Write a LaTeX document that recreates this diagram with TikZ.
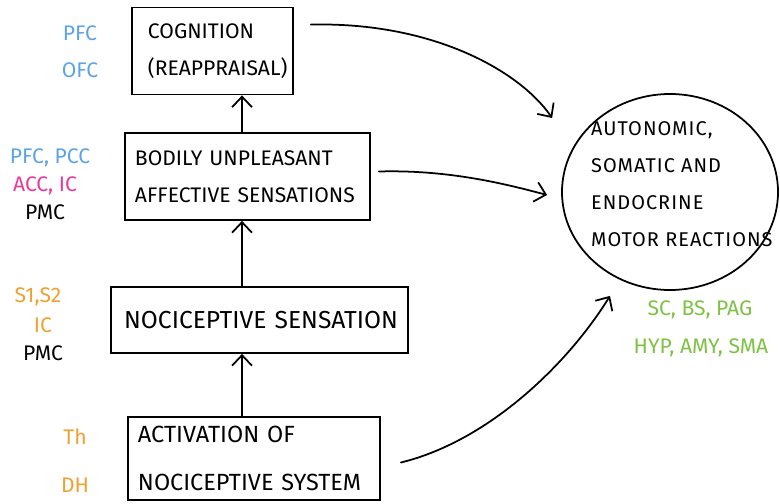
\documentclass[tikz,border=0pt]{standalone}
\usepackage{fontspec}
\setmainfont{Fira Sans}
\newfontfamily\widefont{Fira Sans}[LetterSpace=5]
\usetikzlibrary{arrows.meta,shapes.geometric,calc}
\definecolor{lblue}{HTML}{5BA3E8}
\definecolor{lmagenta}{HTML}{E8399A}
\definecolor{lorange}{HTML}{F0A030}
\definecolor{lgreen}{HTML}{7DC242}
\begin{document}
\begin{tikzpicture}[x=0.03cm,y=-0.03cm,
  stagebox/.style={draw, line width=1.5pt, rectangle, inner ysep=0pt,
    align=left, font=\fontsize{18}{32}\selectfont},
  region/.style={font=\fontsize{18}{20}\selectfont, inner sep=0pt},
  arr/.style={line width=1.5pt, line cap=round,
    -{Straight Barb[length=9pt,width=17pt,line width=1.5pt]}}]
\useasboundingbox (0,0) rectangle (780,504);

% processing stages
\node[stagebox, inner xsep=0.48cm, text width=3.87cm, minimum height=2.61cm]
  (cog) at (212.5,51) {COGNITION\\(REAPPRAISAL)};
\node[stagebox, inner xsep=0.30cm, text width=6.75cm, minimum height=2.61cm]
  (aff) at (247.5,176.5) {BODILY UNPLEASANT\\AFFECTIVE SENSATIONS};
\node[stagebox, inner xsep=0.30cm, text width=8.31cm, minimum height=1.98cm,
  align=right, font=\fontsize{21}{32}\selectfont]
  (noc) at (259.5,320) {NOCICEPTIVE SENSATION};
\node[stagebox, inner xsep=0.30cm, text width=6.96cm, minimum height=2.49cm,
  font=\fontsize{20}{41}\selectfont]
  (act) at (254,458.5) {ACTIVATION OF\\NOCICEPTIVE SYSTEM};

% motor output
\node[draw, ellipse, line width=1.5pt, minimum width=6.48cm, minimum height=5.88cm]
  (auto) at (670,192) {};
\node[align=left, anchor=west, font=\widefont\fontsize{17}{31.5}\selectfont, inner sep=0pt]
  (autotext) at (591,184) {AUTONOMIC,\\SOMATIC AND\\ENDOCRINE\\MOTOR REACTIONS};

% brain regions
\node[region, text=lblue] (r1) at (80,33) {PFC};
\node[region, text=lblue] (r2) at (80,70) {OFC};
\node[region, text=lblue] (r3) at (50,158) {PFC, PCC};
\node[region, text=lmagenta] (r4) at (45,186) {ACC, IC};
\node[region] (r5) at (45,212) {PMC};
\node[region, text=lorange] (r6) at (38,297) {S1,S2};
\node[region, text=lorange] (r7) at (43,325) {IC};
\node[region] (r8) at (43,353) {PMC};
\node[region, text=lorange] (r9) at (75,437) {Th};
\node[region, text=lorange] (r10) at (75,485) {DH};
\node[region, text=lgreen] (r11) at (700,310) {SC, BS, PAG};
\node[region, text=lgreen] (r12) at (701,348) {HYP, AMY, SMA};

% ascending chain
\coordinate (spine) at (242,0);
\draw[arr] (act.north -| spine) -- (noc.south -| spine);
\draw[arr] (noc.north -| spine) -- (aff.south -| spine);
\draw[arr] (aff.north -| spine) -- (cog.south -| spine);

% links to the motor reactions
\coordinate (c1s) at ($(cog.north east)+(17,18)$);
\coordinate (c1e) at ($(auto.west)+(-9,-74)$);
\coordinate (c2s) at ($(aff.east)+(8,-5)$);
\coordinate (c2e) at ($(auto.west)+(-14,3)$);
\coordinate (c3s) at ($(act.east)+(20,4)$);
\coordinate (c3e) at ($(auto.south)+(-60,5)$);
\draw[arr] (c1s) .. controls +(120,-3) and +(-33,-48) .. (c1e);
\draw[arr] (c2s) .. controls +(72,-2) and +(-38,-10) .. (c2e);
\draw[arr] (c3s) .. controls +(90,-22) and +(-40,65) .. (c3e);
\end{tikzpicture}
\end{document}
